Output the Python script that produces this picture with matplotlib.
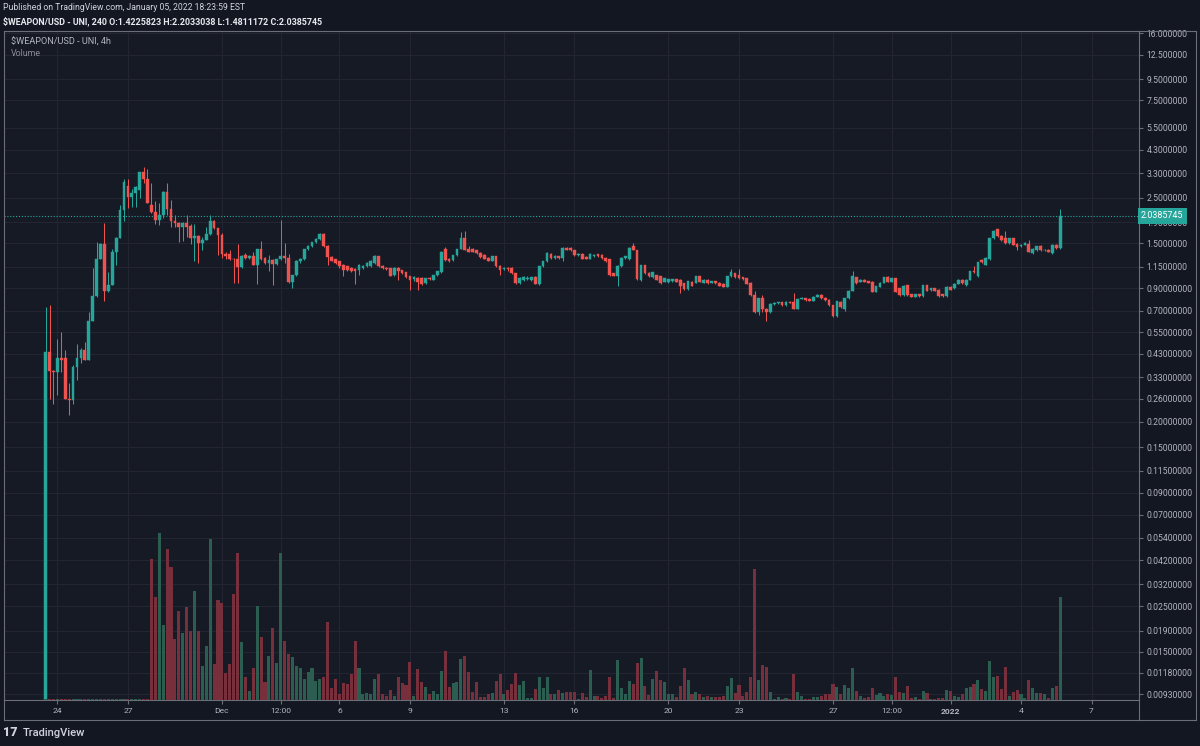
import matplotlib
matplotlib.use('Agg')
import matplotlib.pyplot as plt
import matplotlib.dates as mdates
import numpy as np
import pandas as pd
from matplotlib.lines import Line2D
from matplotlib.ticker import NullLocator, NullFormatter
from matplotlib.transforms import blended_transform_factory

plt.rcParams['font.family'] = ['Roboto', 'DejaVu Sans']

# ---------------- data (4h candles, from 2021-11-23 12:00) ----------------
start_time = '2021-11-23 12:00'
opens = [0.005, 0.44, 0.355, 0.35, 0.41, 0.41, 0.26, 0.255, 0.37, 0.41,
         0.45, 0.40, 0.62, 0.83, 1.26, 1.48, 0.87, 0.94, 1.36, 1.59,
         2.18, 2.85, 2.53, 2.65, 2.73, 3.35, 3.10, 2.30, 2.13, 1.95,
         2.05, 2.68, 2.20, 1.93, 1.87, 1.80, 1.88, 1.82, 1.58, 1.62,
         1.50, 1.56, 1.66, 1.93, 1.77, 1.64, 1.32, 1.33, 1.26, 1.25,
         1.14, 1.31, 1.27, 1.30, 1.17, 1.40, 1.27, 1.20, 1.24, 1.18,
         1.25, 1.30, 1.27, 0.97, 1.05, 1.23, 1.25, 1.40, 1.45, 1.51,
         1.57, 1.66, 1.45, 1.28, 1.25, 1.22, 1.17, 1.155, 1.13, 1.12,
         1.107, 1.13, 1.155, 1.16, 1.20, 1.29, 1.16, 1.135, 1.13, 1.046,
         1.13, 1.107, 1.08, 1.03, 0.995, 1.01, 1.01, 0.955, 1.01, 0.99,
         1.046, 1.08, 1.40, 1.26, 1.24, 1.31, 1.41, 1.58, 1.41, 1.41,
         1.386, 1.34, 1.31, 1.27, 1.23, 1.29, 1.16, 1.12, 1.135, 1.13,
         1.07, 0.96, 0.99, 0.995, 0.99, 1.02, 0.95, 1.155, 1.22, 1.33,
         1.27, 1.29, 1.27, 1.42, 1.42, 1.38, 1.31, 1.33, 1.28, 1.26,
         1.29, 1.32, 1.31, 1.27, 1.25, 1.07, 1.035, 1.155, 1.27, 1.25,
         1.45, 1.386, 0.99, 1.17, 1.07, 1.02, 1.046, 1.03, 0.97, 0.97,
         0.975, 0.995, 0.99, 0.955, 0.89, 0.97, 0.96, 1.035, 0.96, 0.99,
         0.96, 0.975, 0.96, 0.95, 0.915, 1.03, 1.065, 1.046, 1.02, 1.01,
         0.96, 0.835, 0.69, 0.805, 0.716, 0.69, 0.757, 0.763, 0.768, 0.746,
         0.776, 0.768, 0.716, 0.80, 0.805, 0.80, 0.785, 0.82, 0.835, 0.81,
         0.79, 0.746, 0.66, 0.776, 0.716, 0.805, 0.876, 1.02, 0.97, 0.99,
         0.975, 0.97, 0.866, 0.915, 0.96, 1.02, 0.97, 1.01, 0.90, 0.835,
         0.935, 0.84, 0.82, 0.84, 0.825, 0.935, 0.883, 0.90, 0.883, 0.84,
         0.825, 0.915, 0.90, 0.95, 0.99, 0.935, 0.99, 1.09, 1.03, 1.24,
         1.17, 1.25, 1.58, 1.75, 1.63, 1.58, 1.50, 1.58, 1.49, 1.45,
         1.47, 1.49, 1.34, 1.38, 1.45, 1.38, 1.39, 1.34, 1.47, 1.4225823]
highs = [0.73, 0.75, 0.36, 0.51, 0.55, 0.45, 0.31, 0.38, 0.48, 0.46,
         0.49, 0.69, 1.13, 1.52, 1.50, 1.89, 1.08, 1.40, 1.60, 2.30,
         3.10, 3.10, 2.75, 2.85, 3.35, 3.55, 3.45, 2.95, 2.40, 2.35,
         2.70, 2.95, 2.45, 2.05, 1.90, 1.90, 2.05, 1.85, 1.85, 1.65,
         1.60, 1.80, 2.05, 1.95, 1.78, 1.68, 1.36, 1.38, 1.27, 1.48,
         1.31, 1.34, 1.31, 1.36, 1.40, 1.53, 1.28, 1.31, 1.25, 1.26,
         1.95, 1.50, 1.32, 1.05, 1.24, 1.27, 1.41, 1.46, 1.52, 1.58,
         1.68, 1.68, 1.46, 1.29, 1.26, 1.23, 1.18, 1.16, 1.14, 1.13,
         1.18, 1.17, 1.21, 1.24, 1.31, 1.30, 1.165, 1.14, 1.135, 1.14,
         1.14, 1.11, 1.085, 1.035, 1.03, 1.02, 1.02, 1.015, 1.02, 1.05,
         1.09, 1.37, 1.44, 1.27, 1.31, 1.41, 1.70, 1.72, 1.45, 1.42,
         1.39, 1.35, 1.32, 1.28, 1.30, 1.30, 1.165, 1.14, 1.14, 1.14,
         1.075, 1.02, 1.03, 1.03, 1.025, 1.03, 1.16, 1.23, 1.35, 1.34,
         1.31, 1.30, 1.43, 1.44, 1.43, 1.39, 1.34, 1.34, 1.29, 1.34,
         1.32, 1.33, 1.32, 1.28, 1.26, 1.075, 1.17, 1.28, 1.30, 1.43,
         1.50, 1.39, 1.17, 1.175, 1.08, 1.085, 1.05, 1.035, 1.015, 1.0,
         1.0, 1.0, 0.995, 0.96, 0.98, 0.975, 1.04, 1.04, 0.995, 0.995,
         0.98, 0.98, 0.965, 0.955, 1.04, 1.12, 1.07, 1.12, 1.025, 1.015,
         0.965, 0.876, 0.81, 0.835, 0.72, 0.76, 0.768, 0.775, 0.775, 0.78,
         0.78, 0.85, 0.80, 0.815, 0.81, 0.805, 0.825, 0.84, 0.84, 0.815,
         0.795, 0.75, 0.785, 0.78, 0.81, 0.88, 1.09, 1.025, 0.995, 0.995,
         0.98, 0.975, 0.925, 0.965, 1.025, 1.035, 1.015, 1.015, 0.905, 0.93,
         0.94, 0.845, 0.845, 0.845, 0.94, 0.94, 0.905, 0.905, 0.89, 0.845,
         0.92, 0.92, 0.955, 0.995, 0.995, 0.995, 1.10, 1.155, 1.21, 1.25,
         1.28, 1.58, 1.73, 1.76, 1.64, 1.72, 1.59, 1.59, 1.50, 1.48,
         1.51, 1.55, 1.42, 1.45, 1.46, 1.40, 1.40, 1.48, 1.48, 2.2033038]
lows = [0.005, 0.26, 0.245, 0.27, 0.35, 0.26, 0.216, 0.245, 0.32, 0.39,
        0.40, 0.40, 0.62, 0.82, 1.25, 0.78, 0.86, 0.93, 1.17, 1.58,
        1.93, 2.23, 2.25, 2.25, 2.50, 2.95, 2.35, 2.10, 1.85, 1.84,
        2.00, 2.05, 1.80, 1.80, 1.52, 1.53, 1.60, 1.48, 1.23, 1.20,
        1.38, 1.55, 1.65, 1.76, 1.31, 1.27, 1.26, 1.24, 0.96, 0.96,
        1.13, 1.26, 1.26, 1.17, 0.95, 1.24, 1.19, 1.10, 0.94, 1.17,
        1.24, 1.20, 0.96, 0.90, 1.04, 1.20, 1.24, 1.39, 1.44, 1.50,
        1.56, 1.44, 1.17, 1.22, 1.19, 1.13, 1.035, 1.10, 1.08, 0.95,
        1.05, 1.12, 1.15, 1.15, 1.19, 1.15, 1.12, 1.11, 1.03, 1.04,
        0.99, 1.06, 1.01, 0.883, 0.98, 0.883, 0.94, 0.95, 0.99, 0.985,
        1.04, 1.07, 1.23, 1.21, 1.23, 1.30, 1.40, 1.38, 1.35, 1.35,
        1.33, 1.27, 1.25, 1.22, 1.22, 1.15, 1.046, 1.11, 1.10, 1.06,
        0.95, 0.95, 0.98, 0.99, 0.98, 0.945, 0.94, 1.15, 1.21, 1.26,
        1.26, 1.26, 1.22, 1.38, 1.37, 1.30, 1.30, 1.25, 1.25, 1.25,
        1.28, 1.28, 1.26, 1.21, 1.04, 1.03, 0.925, 1.15, 1.26, 1.24,
        1.38, 0.99, 0.98, 1.06, 1.02, 1.01, 0.985, 0.95, 0.965, 0.96,
        0.97, 0.965, 0.85, 0.88, 0.885, 0.92, 0.955, 0.965, 0.955, 0.95,
        0.955, 0.95, 0.92, 0.91, 0.91, 1.02, 1.015, 1.005, 0.99, 0.945,
        0.83, 0.685, 0.668, 0.686, 0.62, 0.685, 0.75, 0.755, 0.74, 0.74,
        0.76, 0.71, 0.71, 0.795, 0.785, 0.78, 0.78, 0.815, 0.80, 0.785,
        0.74, 0.655, 0.655, 0.725, 0.70, 0.80, 0.87, 0.95, 0.965, 0.965,
        0.955, 0.86, 0.86, 0.91, 0.955, 0.965, 0.965, 0.86, 0.83, 0.83,
        0.83, 0.815, 0.815, 0.82, 0.82, 0.87, 0.875, 0.87, 0.82, 0.82,
        0.82, 0.88, 0.895, 0.945, 0.95, 0.925, 0.985, 1.07, 1.02, 1.20,
        1.165, 1.24, 1.57, 1.61, 1.54, 1.49, 1.49, 1.46, 1.39, 1.44,
        1.46, 1.35, 1.32, 1.37, 1.37, 1.37, 1.35, 1.33, 1.41, 1.40]
closes = [0.44, 0.355, 0.35, 0.41, 0.40, 0.26, 0.255, 0.37, 0.41, 0.45,
          0.40, 0.62, 0.83, 1.26, 1.48, 0.87, 0.94, 1.36, 1.59, 2.18,
          2.97, 2.53, 2.65, 2.82, 3.35, 3.10, 2.35, 2.13, 1.95, 2.05,
          2.68, 2.20, 1.93, 1.87, 1.80, 1.88, 1.80, 1.58, 1.62, 1.50,
          1.56, 1.66, 1.93, 1.77, 1.64, 1.32, 1.30, 1.25, 1.25, 1.14,
          1.30, 1.27, 1.30, 1.17, 1.40, 1.25, 1.20, 1.24, 1.18, 1.25,
          1.30, 1.27, 0.97, 1.05, 1.23, 1.25, 1.40, 1.45, 1.51, 1.57,
          1.66, 1.45, 1.28, 1.23, 1.20, 1.155, 1.107, 1.107, 1.09, 1.09,
          1.17, 1.16, 1.20, 1.23, 1.29, 1.155, 1.13, 1.12, 1.035, 1.13,
          1.09, 1.07, 1.02, 0.99, 1.02, 0.97, 0.95, 1.01, 0.998, 1.046,
          1.09, 1.36, 1.24, 1.22, 1.31, 1.41, 1.58, 1.386, 1.36, 1.36,
          1.34, 1.28, 1.26, 1.23, 1.29, 1.155, 1.107, 1.135, 1.12, 1.065,
          0.96, 1.01, 1.02, 1.015, 1.02, 0.95, 1.155, 1.22, 1.34, 1.27,
          1.29, 1.27, 1.42, 1.386, 1.38, 1.31, 1.33, 1.26, 1.26, 1.33,
          1.31, 1.29, 1.27, 1.22, 1.046, 1.035, 1.16, 1.27, 1.29, 1.42,
          1.386, 0.995, 1.17, 1.065, 1.03, 1.08, 0.99, 0.955, 1.01, 0.995,
          0.995, 0.97, 0.92, 0.89, 0.975, 0.925, 1.035, 0.97, 0.99, 0.955,
          0.975, 0.955, 0.925, 0.915, 1.035, 1.08, 1.02, 1.01, 0.995, 0.95,
          0.835, 0.69, 0.805, 0.716, 0.686, 0.757, 0.763, 0.768, 0.746, 0.776,
          0.763, 0.716, 0.80, 0.81, 0.79, 0.785, 0.82, 0.835, 0.805, 0.79,
          0.746, 0.66, 0.78, 0.73, 0.805, 0.876, 1.03, 0.955, 0.99, 0.97,
          0.96, 0.866, 0.92, 0.96, 1.02, 0.97, 1.01, 0.866, 0.835, 0.925,
          0.835, 0.82, 0.84, 0.825, 0.935, 0.876, 0.90, 0.876, 0.825, 0.825,
          0.915, 0.883, 0.95, 0.99, 0.955, 0.99, 1.09, 1.08, 1.21, 1.205,
          1.27, 1.58, 1.72, 1.62, 1.55, 1.50, 1.58, 1.47, 1.44, 1.47,
          1.50, 1.36, 1.41, 1.45, 1.38, 1.39, 1.36, 1.47, 1.42, 2.0385745]
volumes = [1, 1, 1, 1, 1, 1, 1, 1, 1, 1,
           1, 1, 1, 1, 1, 1, 1, 1, 1, 1,
           1, 1, 1, 1, 1, 1, 1, 141, 103, 167,
           75, 151, 133, 61, 89, 67, 93, 69, 109, 69,
           34, 54, 161, 36, 100, 97, 27, 36, 106, 147,
           58, 23, 9, 32, 94, 63, 18, 44, 72, 37,
           147, 59, 46, 43, 34, 32, 21, 28, 32, 19,
           21, 23, 78, 12, 21, 6, 17, 16, 26, 59,
           32, 6, 7, 6, 21, 26, 6, 4, 10, 4,
           23, 17, 15, 38, 4, 31, 18, 13, 6, 9,
           6, 29, 49, 13, 17, 18, 41, 44, 28, 8,
           18, 3, 3, 6, 7, 19, 26, 6, 10, 16,
           27, 15, 19, 2, 2, 11, 23, 12, 23, 6,
           6, 10, 7, 8, 8, 8, 1, 7, 3, 30,
           4, 4, 2, 4, 23, 2, 40, 12, 6, 19,
           16, 37, 42, 14, 5, 21, 29, 20, 18, 6,
           6, 3, 14, 32, 20, 6, 8, 6, 3, 4,
           3, 3, 3, 4, 14, 22, 7, 15, 4, 8,
           23, 131, 20, 35, 33, 8, 1, 3, 1.5, 2,
           1, 26, 8, 4, 1, 1, 3, 3, 4, 6,
           6, 16, 13, 6, 15, 12, 32, 9, 4, 2,
           3, 12, 5, 7, 4, 6, 5, 23, 8, 7,
           14, 2, 3, 1, 9, 7, 1, 1, 2, 2,
           10, 9, 4, 3, 6, 12, 13, 16, 20, 11,
           9, 39, 23, 24, 11, 33, 4, 8, 10, 6,
           2, 20, 12, 7, 7, 6, 2, 12, 14, 103]

price_ticks = [16.0, 12.5, 9.5, 7.5, 5.5, 4.3, 3.3, 2.5, 1.9, 1.5, 1.15, 0.9, 0.7,
               0.55, 0.43, 0.33, 0.26, 0.2, 0.15, 0.115, 0.09, 0.07, 0.054, 0.042,
               0.032, 0.025, 0.019, 0.015, 0.0118, 0.0093]
price_tick_labels = ['16.000000', '12.500000', '9.5000000', '7.5000000', '5.5000000',
                     '4.3000000', '3.3000000', '2.5000000', '1.9000000', '1.5000000',
                     '1.1500000', '0.90000000', '0.70000000', '0.55000000', '0.43000000',
                     '0.33000000', '0.26000000', '0.20000000', '0.15000000', '0.11500000',
                     '0.09000000', '0.07000000', '0.05400000', '0.04200000', '0.03200000',
                     '0.02500000', '0.01900000', '0.01500000', '0.01180000', '0.00930000']
time_ticks = ['2021-11-24 00:00', '2021-11-27 00:00', '2021-12-01 00:00', '2021-12-03 12:00',
              '2021-12-06 00:00', '2021-12-09 00:00', '2021-12-13 00:00', '2021-12-16 00:00',
              '2021-12-20 00:00', '2021-12-23 00:00', '2021-12-27 00:00', '2021-12-29 12:00',
              '2022-01-01 00:00', '2022-01-04 00:00', '2022-01-07 00:00']
time_tick_labels = ['24', '27', 'Dec', '12:00', '6', '9', '13', '16', '20', '23',
                    '27', '12:00', '2022', '4', '7']
last_price = 2.0385745
last_price_label = '2.0385745'

# ---------------- style ----------------
FIG_BG = '#131722'
PANE_BG = '#161a25'
GRID = '#232632'
FRAME = '#6b6e79'
TXT = '#b2b5be'
UP = '#26a69a'
DOWN = '#ef5350'
VUP = '#2b5d51'
VDOWN = '#77303b'

W, H = 1200, 746
fig = plt.figure(figsize=(W / 100, H / 100), dpi=100, facecolor=FIG_BG)


def rect(l, t, r, b):
    return [l / W, 1 - b / H, (r - l) / W, (b - t) / H]


PLOT_L, PLOT_T, PLOT_R, PLOT_B = 4, 31, 1139, 700
ax = fig.add_axes(rect(PLOT_L, PLOT_T, PLOT_R, PLOT_B))
ax.set_facecolor(PANE_BG)
axv = ax.twinx()
axv.set_zorder(ax.get_zorder() + 1)
axv.patch.set_visible(False)

o = np.array(opens)
h = np.array(highs)
l = np.array(lows)
c = np.array(closes)
v = np.array(volumes)
times = pd.date_range(start_time, periods=len(c), freq='4h')
x = mdates.date2num(times.to_pydatetime())
up = c >= o
ccol = np.where(up, UP, DOWN)
vcol = np.where(up, VUP, VDOWN)

# candles
ax.vlines(x, l, h, colors=ccol, linewidth=0.75, zorder=3)
ax.bar(x, np.abs(c - o), bottom=np.minimum(o, c), width=0.115, color=ccol,
       edgecolor=ccol, linewidth=0.3, zorder=4)

# volume
axv.bar(x, v, width=0.13, color=vcol, linewidth=0)
axv.set_ylim(0, 669)
axv.yaxis.set_visible(False)
for s in axv.spines.values():
    s.set_visible(False)

# scales
ax.set_yscale('log')
ax.set_ylim(0.008697, 16.37)
x0 = mdates.date2num(pd.Timestamp('2021-11-24').to_pydatetime())
ax.set_xlim(x0 - 2.272, x0 + 46.02)

ax.yaxis.tick_right()
ax.set_yticks(price_ticks)
ax.set_yticklabels(price_tick_labels)
ax.yaxis.set_minor_locator(NullLocator())
ax.yaxis.set_minor_formatter(NullFormatter())
ax.tick_params(axis='y', direction='out', length=3, width=0.8, color=FRAME,
               labelcolor=TXT, labelsize=6.2, pad=2.5)

xt = mdates.date2num(pd.to_datetime(time_ticks, format='%Y-%m-%d %H:%M').to_pydatetime())
ax.set_xticks(xt)
ax.set_xticklabels(time_tick_labels)
ax.xaxis.set_minor_locator(NullLocator())
ax.tick_params(axis='x', direction='out', length=3, width=0.8, color=FRAME,
               labelcolor=TXT, labelsize=6.1, pad=3.0)
for t in ax.get_xticklabels():
    if t.get_text() == '2022':
        t.set_fontweight('bold')

ax.grid(True, color=GRID, linewidth=0.8)
ax.set_axisbelow(True)
for s in ax.spines.values():
    s.set_color(FRAME)
    s.set_linewidth(0.8)

# last price line and label
ax.axhline(last_price, color=UP, linewidth=0.8, linestyle=(0, (1, 1.6)), zorder=2)
trans = blended_transform_factory(ax.transAxes, ax.transData)
ax.text(1.0 + 2.0 / (PLOT_R - PLOT_L), last_price, last_price_label, transform=trans,
        ha='left', va='center', fontsize=6.4, color='white', clip_on=False, zorder=10,
        bbox=dict(boxstyle='square,pad=0.38', fc=UP, ec='none'))


# outer frame lines
def fline(xs, ys):
    fig.add_artist(Line2D([xx / W for xx in xs], [1 - yy / H for yy in ys],
                          transform=fig.transFigure, color=FRAME, linewidth=0.8))


fline([4, 1196], [720, 720])
fline([1196, 1196], [31, 720])
fline([1139, 1196], [31, 31])
fline([4, 4], [700, 720])
fline([1139, 1139], [700, 720])

# texts
fig.text(3 / W, 1 - 7.5 / H, 'Published on TradingView.com, January 05, 2022 18:23:59 EST',
         fontsize=6.2, color='#d1d4dc', va='center', ha='left')
fig.text(3 / W, 1 - 21 / H,
         '$WEAPON/USD - UNI, 240 O:1.4225823 H:2.2033038 L:1.4811172 C:2.0385745',
         fontsize=6.4, color='#e8e9ee', fontweight='bold', va='center', ha='left')
fig.text(11 / W, 1 - 42.5 / H, '$WEAPON/USD - UNI, 4h', fontsize=6.6, color=TXT,
         va='center', ha='left')
fig.text(11 / W, 1 - 53.5 / H, 'Volume', fontsize=6.4, color='#8a8d96',
         va='center', ha='left')
fig.text(3 / W, 1 - 733 / H, '17', fontsize=9, color='#d1d4dc', fontweight='heavy',
         va='center', ha='left')
fig.text(23 / W, 1 - 733 / H, 'TradingView', fontsize=8.0, color='#d1d4dc',
         fontweight='medium', va='center', ha='left')

fig.savefig('out.png', dpi=100, facecolor=FIG_BG)
